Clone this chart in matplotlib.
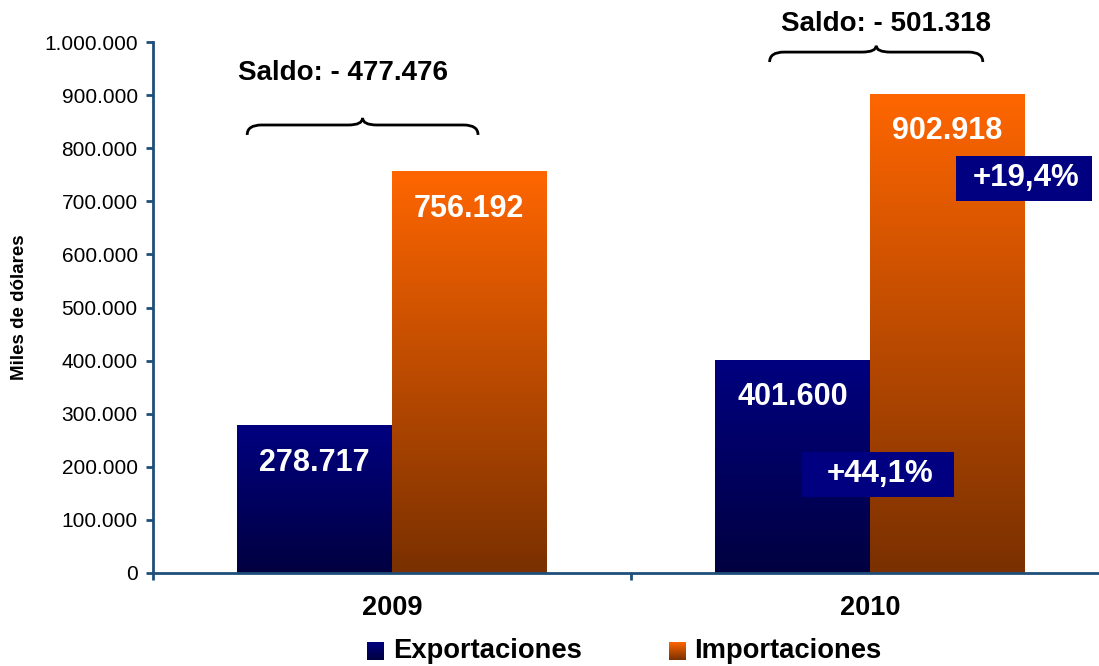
import numpy as np
import matplotlib
matplotlib.use("Agg")
from matplotlib import pyplot as plt
from matplotlib.colors import LinearSegmentedColormap
from matplotlib.patches import Rectangle, PathPatch
from matplotlib.path import Path
from matplotlib.ticker import FuncFormatter

# Data
years = ["2009", "2010"]
exportaciones = [278717, 401600]
importaciones = [756192, 902918]
saldo = [-477476, -501318]
series_names = ["Exportaciones", "Importaciones"]

# colours (bottom, top) of the bar gradients
exp_colors = ("#000040", "#000080")
imp_colors = ("#7A3000", "#FF6600")
axis_color = "#1F4E79"
box_color = "#000080"

plt.rcParams['font.family'] = ['Liberation Sans', 'DejaVu Sans']


def fmt(v):
    return f"{abs(int(v)):,}".replace(",", ".")


def fmt_pct(p):
    return f"+{p:.1f}%".replace(".", ",")


def gradient_fill(ax, patch, colors):
    cmap = LinearSegmentedColormap.from_list("g", list(colors))
    x, y = patch.get_x(), patch.get_y()
    w, h = patch.get_width(), patch.get_height()
    grad = np.linspace(0, 1, 256).reshape(-1, 1)
    im = ax.imshow(grad, cmap=cmap, extent=[x, x + w, y, y + h],
                   origin="lower", aspect="auto", zorder=2)
    im.set_clip_path(patch)


def brace(ax, x0, x1, yb, yl, yt, dx):
    xm = (x0 + x1) / 2
    verts = [(x0, yb), (x0, yl), (x0 + dx, yl),
             (xm - dx, yl),
             (xm, yl), (xm, yt),
             (xm, yl), (xm + dx, yl),
             (x1 - dx, yl),
             (x1, yl), (x1, yb)]
    codes = [Path.MOVETO, Path.CURVE3, Path.CURVE3,
             Path.LINETO,
             Path.CURVE3, Path.CURVE3,
             Path.CURVE3, Path.CURVE3,
             Path.LINETO,
             Path.CURVE3, Path.CURVE3]
    ax.add_patch(PathPatch(Path(verts, codes), fill=False, lw=2,
                           color="black", clip_on=False, zorder=5))


fig = plt.figure(figsize=(10.99, 6.66), dpi=100)
W, H = 1099, 666
ax = fig.add_axes([153 / W, 1 - 573 / H, (1109 - 153) / W, 531 / H])

x = np.arange(len(years))
bw = 0.324
b1 = ax.bar(x - bw / 2, exportaciones, bw, facecolor="none", edgecolor="none")
b2 = ax.bar(x + bw / 2, importaciones, bw, facecolor="none", edgecolor="none")
for p in b1:
    gradient_fill(ax, p, exp_colors)
for p in b2:
    gradient_fill(ax, p, imp_colors)

# value labels inside bars
for bars, vals in ((b1, exportaciones), (b2, importaciones)):
    for p, v in zip(bars, vals):
        ax.annotate(fmt(v), (p.get_x() + p.get_width() / 2, v),
                    xytext=(0, -27), textcoords="offset points",
                    ha="center", va="center", color="white",
                    fontsize=22, fontweight="bold", zorder=6)

# growth boxes
growth_exp = (exportaciones[1] / exportaciones[0] - 1) * 100
growth_imp = (importaciones[1] / importaciones[0] - 1) * 100
boxes = [(1.0167, 186400, 0.318, fmt_pct(growth_exp)),
         (1.322, 743000, 0.2845, fmt_pct(growth_imp))]
for cx, cy, bwid, txt in boxes:
    ax.add_patch(Rectangle((cx - bwid / 2, cy - 42400), bwid, 84800,
                           facecolor=box_color, edgecolor="none",
                           zorder=7, clip_on=False))
    ax.text(cx + 0.005, cy, txt, ha="center", va="center", color="white",
            fontsize=22.5, fontweight="bold", zorder=8)

# saldo braces and labels
brace(ax, -0.303, 0.180, 825000, 843700, 857000, 0.03)
brace(ax, 0.790, 1.236, 962300, 981000, 993000, 0.03)
ax.text(-0.1025, 941600, "Saldo: - " + fmt(saldo[0]), ha="center",
        va="center", fontsize=20, fontweight="bold", clip_on=False)
ax.text(1.0345, 1033900, "Saldo: - " + fmt(saldo[1]), ha="center",
        va="center", fontsize=20, fontweight="bold", clip_on=False)

# axes styling
ax.set_xlim(-0.5, 1.5)
ax.set_ylim(0, 1000000)
ax.set_yticks(np.arange(0, 1000001, 100000))
ax.yaxis.set_major_formatter(FuncFormatter(lambda v, pos: fmt(v)))
ax.set_xticks(x)
ax.set_xticklabels(years, fontsize=19.5, fontweight="bold")
ax.set_xticks([-0.5, 0.5, 1.5], minor=True)
ax.tick_params(axis="x", which="major", length=0, pad=16)
ax.tick_params(axis="x", which="minor", length=5, width=2,
               color=axis_color, direction="out")
ax.tick_params(axis="y", length=5, width=2, color=axis_color,
               labelsize=15, pad=6)
for s in ("top", "right"):
    ax.spines[s].set_visible(False)
for s in ("left", "bottom"):
    ax.spines[s].set_color(axis_color)
    ax.spines[s].set_linewidth(2)
ax.set_ylabel("Miles de dólares", fontsize=13.5, fontweight="bold")
ax.yaxis.set_label_coords(-0.131, 0.5)

# legend with gradient squares
leg_items = [(367, 393, exp_colors, series_names[0]),
             (669, 694, imp_colors, series_names[1])]
for sx, tx, cols, name in leg_items:
    lax = fig.add_axes([sx / W, 1 - 660 / H, 17 / W, 18 / H])
    lax.imshow(np.linspace(0, 1, 64).reshape(-1, 1), origin="lower",
               cmap=LinearSegmentedColormap.from_list("l", list(cols)),
               aspect="auto")
    lax.axis("off")
    fig.text(tx / W, 1 - 651 / H, name, ha="left", va="center",
             fontsize=19.7, fontweight="bold")

fig.savefig("out.png", dpi=100)
